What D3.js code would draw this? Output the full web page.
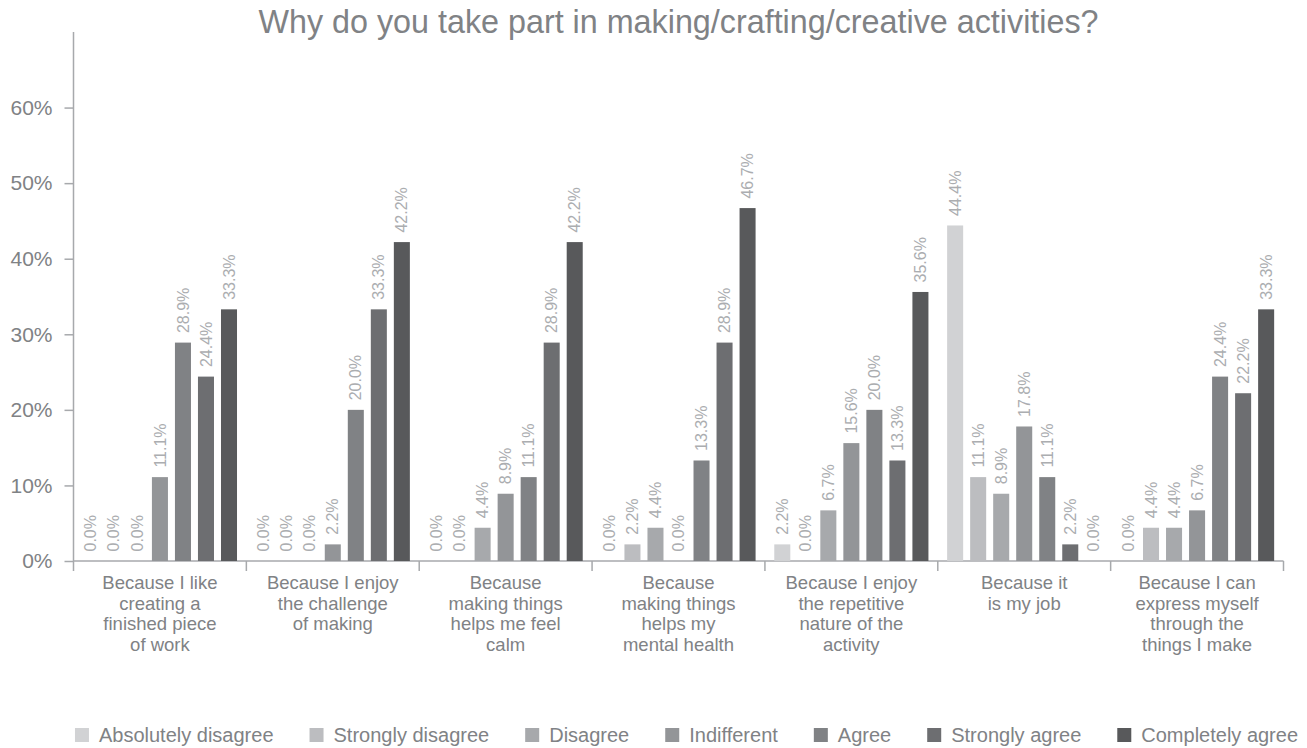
<!DOCTYPE html>
<html>
<head>
<meta charset="utf-8">
<script src="https://cdn.jsdelivr.net/npm/d3@7"></script>
<style>
  body { margin: 0; background: #fff; }
  text { font-family: "Helvetica Neue", Helvetica, Arial, "Liberation Sans", sans-serif; }
</style>
</head>
<body>
<div id="chart"></div>
<script>
// categories (split in lines as in the original labels)
const categories = [
  ['Because I like', 'creating a', 'finished piece', 'of work'],
  ['Because I enjoy', 'the challenge', 'of making'],
  ['Because', 'making things', 'helps me feel', 'calm'],
  ['Because', 'making things', 'helps my', 'mental health'],
  ['Because I enjoy', 'the repetitive', 'nature of the', 'activity'],
  ['Because it', 'is my job'],
  ['Because I can', 'express myself', 'through the', 'things I make']
];

const seriesNames = ['Absolutely disagree', 'Strongly disagree', 'Disagree', 'Indifferent',
  'Agree', 'Strongly agree', 'Completely agree'];

// one array per answer, one value per category (%)
const absolutelyDisagree = [0.0, 0.0, 0.0, 0.0, 2.2, 44.4, 0.0];
const stronglyDisagree   = [0.0, 0.0, 0.0, 2.2, 0.0, 11.1, 4.4];
const disagree           = [0.0, 0.0, 4.4, 4.4, 6.7, 8.9, 4.4];
const indifferent        = [11.1, 2.2, 8.9, 0.0, 15.6, 17.8, 6.7];
const agree              = [28.9, 20.0, 11.1, 13.3, 20.0, 11.1, 24.4];
const stronglyAgree      = [24.4, 33.3, 28.9, 28.9, 13.3, 2.2, 22.2];
const completelyAgree    = [33.3, 42.2, 42.2, 46.7, 35.6, 0.0, 33.3];

const yTicks = [0, 10, 20, 30, 40, 50, 60];

const seriesValues = [absolutelyDisagree, stronglyDisagree, disagree, indifferent,
  agree, stronglyAgree, completelyAgree];
const colors = ['#d1d2d4', '#bcbdc0', '#a7a9ac', '#939598', '#808285', '#6d6e71', '#58595b'];

const width = 1307;
const height = 748;
const mLeft = 73.5, mRight = 1283.5, mTop = 32, mBottom = 561;
const textColor = '#808285';
const axisColor = '#a7a9ac';

const svg = d3.select('#chart').append('svg')
  .attr('width', width)
  .attr('height', height);

const catKeys = categories.map((c, i) => i);

const x0 = d3.scaleBand().domain(catKeys).range([mLeft, mRight]).padding(0);
const x1 = d3.scaleBand().domain(seriesNames).range([0, x0.bandwidth()])
  .paddingInner(0.304).paddingOuter(0.406);
const y = d3.scaleLinear().domain([0, 70]).range([mBottom, mTop]);

// title
svg.append('text')
  .attr('x', (mLeft + mRight) / 2)
  .attr('y', 33)
  .attr('text-anchor', 'middle')
  .attr('font-size', '32.3px')
  .attr('fill', textColor)
  .text('Why do you take part in making/crafting/creative activities?');

// y axis
const axisY = d3.axisLeft(y).tickValues(yTicks).tickFormat(d => d + '%')
  .tickSize(9).tickPadding(12);
const gy = svg.append('g')
  .attr('transform', `translate(${mLeft},0)`)
  .call(axisY);
gy.select('.domain').remove();
gy.selectAll('.tick line').attr('stroke', axisColor).attr('stroke-width', 1.5);
gy.selectAll('.tick text').attr('fill', textColor).attr('font-size', '21px')
  .attr('font-family', '"Helvetica Neue", Helvetica, Arial, "Liberation Sans", sans-serif');

svg.append('line')
  .attr('x1', mLeft).attr('x2', mLeft)
  .attr('y1', mTop).attr('y2', mBottom + 10)
  .attr('stroke', axisColor).attr('stroke-width', 1.5);

// x axis line and band ticks
svg.append('line')
  .attr('x1', mLeft).attr('x2', mRight)
  .attr('y1', mBottom).attr('y2', mBottom)
  .attr('stroke', axisColor).attr('stroke-width', 1.5);

const bounds = catKeys.map(k => x0(k)).concat([mRight]);
svg.append('g').selectAll('line')
  .data(bounds.slice(1))
  .enter().append('line')
  .attr('x1', d => d).attr('x2', d => d)
  .attr('y1', mBottom).attr('y2', mBottom + 10)
  .attr('stroke', axisColor).attr('stroke-width', 1.5);

// bars
const rows = [];
catKeys.forEach(k => {
  seriesNames.forEach((s, j) => {
    rows.push({ cat: k, series: s, value: seriesValues[j][k], color: colors[j] });
  });
});

const plot = svg.append('g');
plot.selectAll('.bar')
  .data(rows)
  .enter().append('rect')
  .attr('class', 'bar')
  .attr('x', d => x0(d.cat) + x1(d.series))
  .attr('y', d => y(d.value))
  .attr('width', x1.bandwidth())
  .attr('height', d => mBottom - y(d.value))
  .attr('fill', d => d.color);

// value labels
plot.selectAll('.lbl')
  .data(rows)
  .enter().append('text')
  .attr('class', 'lbl')
  .attr('transform', d => `translate(${x0(d.cat) + x1(d.series) + x1.bandwidth() / 2},${y(d.value) - 9.5}) rotate(-90)`)
  .attr('dy', '0.35em')
  .attr('font-size', '16px')
  .attr('fill', '#abadb0')
  .text(d => d.value.toFixed(1) + '%');

// category labels
const catLabels = svg.append('g').selectAll('text')
  .data(catKeys)
  .enter().append('text')
  .attr('x', k => x0(k) + x0.bandwidth() / 2)
  .attr('y', 589)
  .attr('text-anchor', 'middle')
  .attr('font-size', '18.5px')
  .attr('fill', textColor);

catLabels.selectAll('tspan')
  .data(k => categories[k])
  .enter().append('tspan')
  .attr('x', function () { return d3.select(this.parentNode).attr('x'); })
  .attr('dy', (d, i) => i === 0 ? 0 : 20.5)
  .text(d => d);

// legend
const legend = svg.append('g').attr('class', 'legend');
let lx = 80;
seriesNames.forEach((s, j) => {
  const item = legend.append('g').attr('transform', `translate(${lx},0)`);
  item.append('rect')
    .attr('x', 0).attr('y', 728)
    .attr('width', 14).attr('height', 14)
    .attr('fill', colors[j]);
  const t = item.append('text')
    .attr('x', 24).attr('y', 742)
    .attr('font-size', '20px')
    .attr('fill', textColor)
    .text(s);
  lx += 24 + t.node().getComputedTextLength() + 36;
});
// center the legend where the original sits
const legendWidth = lx - 36 - 80;
legend.attr('transform', `translate(${686.5 - legendWidth / 2 - 80},0)`);
</script>
</body>
</html>
